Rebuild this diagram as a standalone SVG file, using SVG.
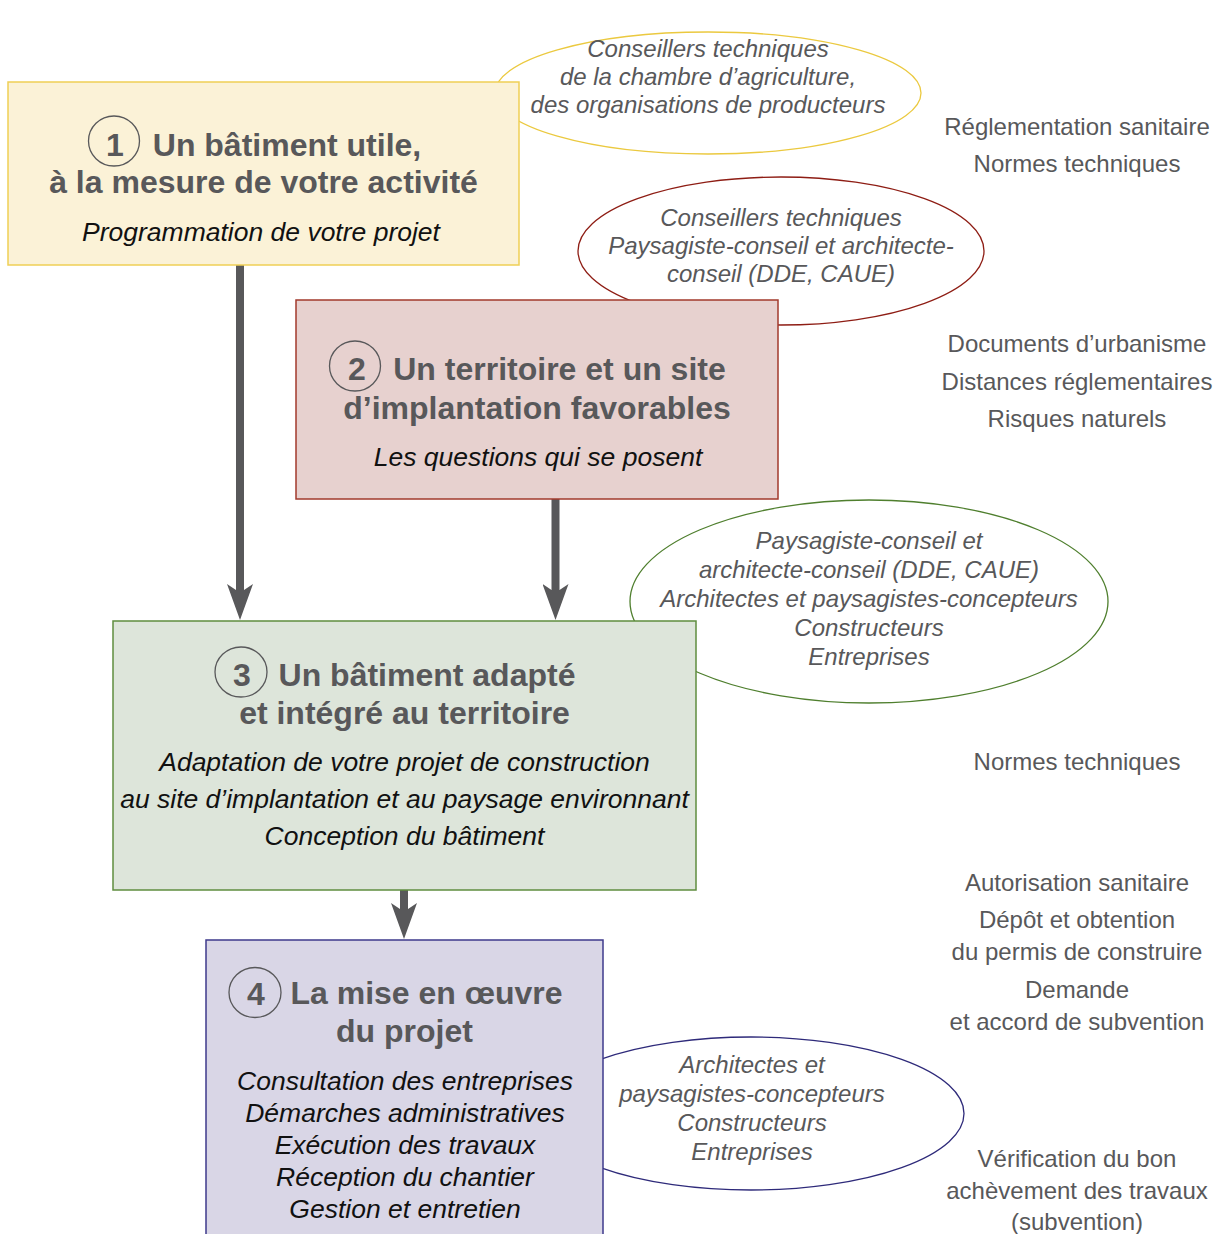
<svg xmlns="http://www.w3.org/2000/svg" width="1216" height="1234" viewBox="0 0 1216 1234">
<style>
.title{font-family:"Liberation Sans",Arial,sans-serif;font-weight:bold;font-size:32px;fill:#58585a;text-anchor:middle}
.sub{font-family:"Liberation Sans",Arial,sans-serif;font-style:italic;font-size:26.5px;fill:#111;text-anchor:middle}
.ell{font-family:"Liberation Sans",Arial,sans-serif;font-style:italic;font-size:24px;fill:#58585a;text-anchor:middle}
.side{font-family:"Liberation Sans",Arial,sans-serif;font-size:24px;fill:#58585a;text-anchor:middle}
.num{fill:none;stroke:#58585a;stroke-width:1.3}
.arrow{stroke:#58585a;stroke-width:8;fill:none;marker-end:url(#head)}
</style>
<defs>
<marker id="head" viewBox="0 0 36 26" markerWidth="36" markerHeight="26" refX="6" refY="13" orient="auto" markerUnits="userSpaceOnUse">
<path d="M0,0 L36,13 L0,26 L6,17 L6,9 Z" fill="#58585a"/>
</marker>
</defs>
<rect width="1216" height="1234" fill="#fff"/>

<g id="ellipse1">
<ellipse cx="708" cy="93" rx="213" ry="61" fill="#fff" stroke="#ebc93f" stroke-width="1.3"/>
<text class="ell" x="708" y="57">Conseillers techniques</text>
<text class="ell" x="708" y="85">de la chambre d’agriculture,</text>
<text class="ell" x="708" y="113">des organisations de producteurs</text>
</g>
<g id="ellipse2">
<ellipse cx="781" cy="251" rx="203" ry="74" fill="#fff" stroke="#8e1d14" stroke-width="1.3"/>
<text class="ell" x="781" y="226">Conseillers techniques</text>
<text class="ell" x="781" y="254">Paysagiste-conseil et architecte-</text>
<text class="ell" x="781" y="282">conseil (DDE, CAUE)</text>
</g>
<g id="ellipse3">
<ellipse cx="869" cy="601.5" rx="239" ry="101.5" fill="#fff" stroke="#4f7f2e" stroke-width="1.3"/>
<text class="ell" x="869" y="549">Paysagiste-conseil et</text>
<text class="ell" x="869" y="578">architecte-conseil (DDE, CAUE)</text>
<text class="ell" x="869" y="607">Architectes et paysagistes-concepteurs</text>
<text class="ell" x="869" y="636">Constructeurs</text>
<text class="ell" x="869" y="665">Entreprises</text>
</g>
<g id="ellipse4">
<ellipse cx="751" cy="1113.5" rx="213" ry="76.5" fill="#fff" stroke="#2e2a7a" stroke-width="1.3"/>
<text class="ell" x="752" y="1073">Architectes et</text>
<text class="ell" x="752" y="1102">paysagistes-concepteurs</text>
<text class="ell" x="752" y="1131">Constructeurs</text>
<text class="ell" x="752" y="1160">Entreprises</text>
</g>

<g id="connectors">
<line class="arrow" x1="240" y1="265" x2="240" y2="590"/>
<line class="arrow" x1="555.5" y1="499" x2="555.5" y2="590"/>
<line class="arrow" x1="404" y1="890" x2="404" y2="909"/>
</g>

<g id="box1">
<rect x="8" y="82" width="511" height="183" fill="#fbf2d7" stroke="#efcf55" stroke-width="1.5"/>
<ellipse class="num" cx="114" cy="141" rx="25.5" ry="25"/>
<text class="title" x="115" y="156">1</text>
<text class="title" x="287" y="156">Un bâtiment utile,</text>
<text class="title" x="263.5" y="193">à la mesure de votre activité</text>
<text class="sub" x="261" y="241">Programmation de votre projet</text>
</g>

<g id="box2">
<rect x="296" y="300" width="482" height="199" fill="#e7d1cf" stroke="#a23a2d" stroke-width="1.5"/>
<ellipse class="num" cx="355" cy="366" rx="25.5" ry="25"/>
<text class="title" x="357" y="380">2</text>
<text class="title" x="559.5" y="380">Un territoire et un site</text>
<text class="title" x="537" y="419">d’implantation favorables</text>
<text class="sub" x="538" y="466">Les questions qui se posent</text>
</g>

<g id="box3">
<rect x="113" y="621" width="583" height="269" fill="#dde5da" stroke="#5f8d3f" stroke-width="1.5"/>
<ellipse class="num" cx="241" cy="672" rx="26" ry="25"/>
<text class="title" x="242" y="686">3</text>
<text class="title" x="427" y="686">Un bâtiment adapté</text>
<text class="title" x="404.5" y="724">et intégré au territoire</text>
<text class="sub" x="404.5" y="771">Adaptation de votre projet de construction</text>
<text class="sub" x="404.5" y="808">au site d’implantation et au paysage environnant</text>
<text class="sub" x="404.5" y="845">Conception du bâtiment</text>
</g>

<g id="box4">
<rect x="206" y="940" width="397" height="310" fill="#d9d6e6" stroke="#3e3a8c" stroke-width="1.5"/>
<ellipse class="num" cx="255" cy="992.5" rx="26" ry="25"/>
<text class="title" x="256" y="1005">4</text>
<text class="title" x="426.5" y="1004">La mise en œuvre</text>
<text class="title" x="404.5" y="1042">du projet</text>
<text class="sub" x="405" y="1090">Consultation des entreprises</text>
<text class="sub" x="405" y="1122">Démarches administratives</text>
<text class="sub" x="405" y="1154">Exécution des travaux</text>
<text class="sub" x="405" y="1186">Réception du chantier</text>
<text class="sub" x="405" y="1218">Gestion et entretien</text>
</g>

<g id="side-notes">
<text class="side" x="1077" y="135">Réglementation sanitaire</text>
<text class="side" x="1077" y="172">Normes techniques</text>
<text class="side" x="1077" y="352">Documents d’urbanisme</text>
<text class="side" x="1077" y="390">Distances réglementaires</text>
<text class="side" x="1077" y="427">Risques naturels</text>
<text class="side" x="1077" y="770">Normes techniques</text>
<text class="side" x="1077" y="891">Autorisation sanitaire</text>
<text class="side" x="1077" y="928">Dépôt et obtention</text>
<text class="side" x="1077" y="960">du permis de construire</text>
<text class="side" x="1077" y="998">Demande</text>
<text class="side" x="1077" y="1030">et accord de subvention</text>
<text class="side" x="1077" y="1167">Vérification du bon</text>
<text class="side" x="1077" y="1199">achèvement des travaux</text>
<text class="side" x="1077" y="1230">(subvention)</text>
</g>
</svg>
